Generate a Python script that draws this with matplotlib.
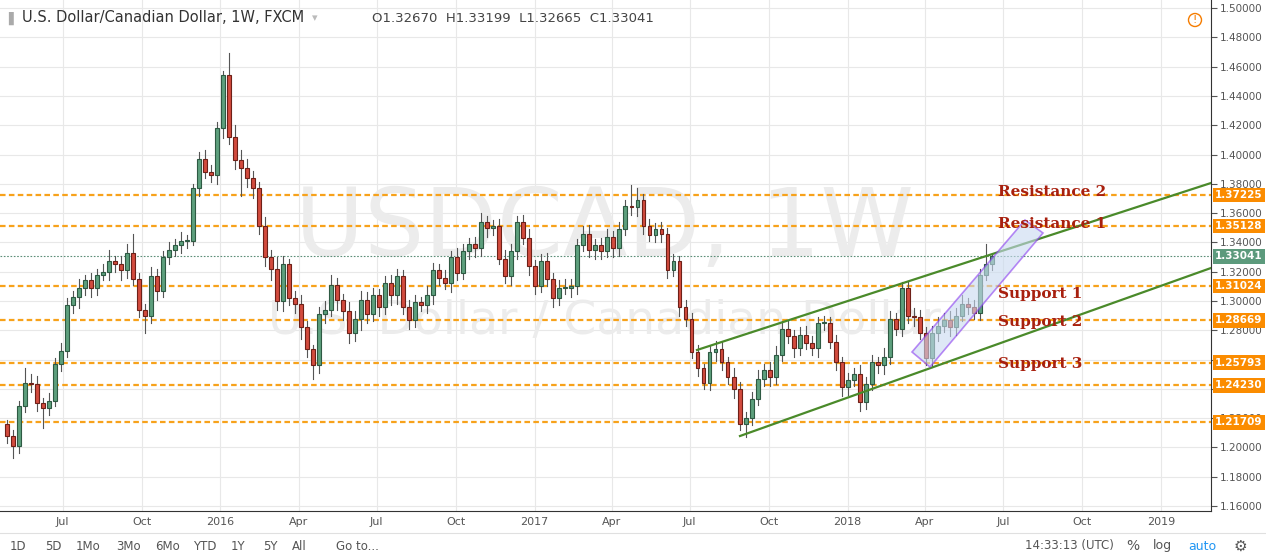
import matplotlib
matplotlib.use("Agg")
import matplotlib.pyplot as plt
import matplotlib.dates as mdates
from matplotlib.patches import Polygon, Rectangle, Ellipse
import pandas as pd
import numpy as np

first_open = 1.216
closes = [1.208,1.201,1.228,1.244,1.243,1.230,1.227,1.232,1.257,1.266,
          1.297,1.303,1.309,1.314,1.309,1.318,1.320,1.327,1.325,1.321,
          1.333,1.315,1.294,1.290,1.317,1.307,1.330,1.335,1.338,1.341,
          1.341,1.377,1.397,1.388,1.386,1.418,1.454,1.412,1.396,1.391,
          1.384,1.377,1.351,1.330,1.322,1.300,1.325,1.302,1.298,1.282,
          1.267,1.256,1.291,1.294,1.311,1.301,1.293,1.278,1.288,1.301,
          1.291,1.304,1.296,1.312,1.304,1.317,1.296,1.287,1.299,1.297,
          1.304,1.321,1.316,1.312,1.330,1.319,1.334,1.339,1.336,1.354,
          1.350,1.351,1.329,1.317,1.334,1.354,1.343,1.324,1.310,1.327,
          1.315,1.302,1.309,1.309,1.310,1.338,1.346,1.335,1.338,1.334,
          1.344,1.336,1.349,1.365,1.364,1.369,1.351,1.345,1.349,1.346,
          1.321,1.327,1.296,1.288,1.265,1.254,1.244,1.265,1.267,1.258,
          1.248,1.240,1.216,1.220,1.233,1.247,1.253,1.248,1.263,1.281,
          1.276,1.268,1.277,1.271,1.268,1.285,1.285,1.272,1.258,1.241,
          1.246,1.250,1.231,1.243,1.258,1.256,1.262,1.288,1.281,1.309,
          1.290,1.289,1.278,1.261,1.278,1.283,1.287,1.282,1.290,1.298,
          1.296,1.292,1.318,1.325,1.3304]
# wick lengths in units of 0.001
upper_wick = [3,4,4,10,6,6,4,5,4,5, 5,4,6,4,5,4,5,8,4,6, 6,13,4,4,6,5,4,5,4,6,
              4,3,5,6,5,4,3,15,8,7, 6,5,4,6,5,8,6,4,5,6, 4,3,5,6,7,5,4,6,5,6,
              5,5,4,5,6,5,4,5,5,4, 6,5,4,5,4,6,5,4,5,6, 4,4,5,6,5,4,5,6,4,5,
              6,4,5,6,5,4,5,6,4,5, 5,4,5,4,14,8,4,5,4,5, 4,5,4,5,4,5,3,4,6,5,
              4,6,5,4,5,6,4,5,6,5, 6,4,5,6,5,4,5,4,5,4, 5,4,6,5,5,4,6,5,4,4,
              4,5,5,4,5,6,5,6,5,6, 4,5,4,14,2]
lower_wick = [5,8,5,4,5,5,14,5,4,5, 4,5,8,5,6,5,4,6,5,7, 5,4,5,12,5,6,4,5,4,5,
              5,3,5,4,5,6,7,5,6,19, 6,7,5,6,8,6,7,5,6,8, 5,9,5,6,4,7,6,7,5,8,
              6,5,6,5,7,6,5,6,5,4, 5,6,5,4,6,5,4,5,6,5, 6,5,4,5,6,5,4,6,5,4,
              5,6,5,4,6,5,4,5,6,5, 4,6,5,4,5,6,5,4,5,6, 5,4,6,5,4,5,4,5,6,5,
              5,6,4,9,5,4,5,6,5,4, 5,6,5,4,5,6,5,4,5,6, 5,4,6,5,4,5,6,5,4,5,
              5,6,4,5,6,5,4,6,5,4, 5,4,5,4,4]

levels = [1.37225, 1.35128, 1.31024, 1.28669, 1.25793, 1.24230, 1.21709]
last_price = 1.33041
level_labels = ["Resistance 2", "Resistance 1", "Support 1", "Support 2", "Support 3"]
level_label_y = [1.3742, 1.3525, 1.3050, 1.2858, 1.2573]
tick_labels_x = ["Jul","Oct","2016","Apr","Jul","Oct","2017","Apr","Jul","Oct","2018","Apr","Jul","Oct","2019"]
tick_dates_x = ["2015-07-01","2015-10-01","2016-01-01","2016-04-01","2016-07-01","2016-10-01",
                "2017-01-01","2017-04-01","2017-07-01","2017-10-01","2018-01-01","2018-04-01",
                "2018-07-01","2018-10-01","2019-01-01"]

W, H = 1266, 556
fig = plt.figure(figsize=(W/100, H/100), dpi=100)
ax = fig.add_axes([0, 1-511/H, 1211/W, 511/H])

dates = pd.date_range("2015-04-27", periods=len(closes), freq="7D")
xs = mdates.date2num(dates)
opens = [first_open] + closes[:-1]

x0 = xs[0] - 8
xr = xs[0] + 200.5*7
y_top, y_bot = 1.5055, 1.1566
ax.set_xlim(x0, xr)
ax.set_ylim(y_bot, y_top)

def px(xp, yp):
    return (x0 + (xp)/1211*(xr-x0), y_top - yp/511*(y_top-y_bot))

# grid
for v in np.arange(1.16, 1.5001, 0.02):
    ax.axhline(v, color="#e8e8e8", lw=0.8, zorder=0)
for d in tick_dates_x:
    ax.axvline(mdates.datestr2num(d), color="#e8e8e8", lw=0.8, zorder=0)

# watermark
ax.text(*px(605, 230), "USDCAD, 1W", fontsize=68, color="#ececec", ha="center", va="center", zorder=0.5)
ax.text(*px(605, 322), "U.S. Dollar / Canadian Dollar", fontsize=34, color="#ececec", ha="center", va="center", zorder=0.5)

# levels
for lv in levels:
    ax.axhline(lv, color="#f7a21b", lw=1.6, ls=(0, (2.5, 1.5)), zorder=1)
ax.axhline(last_price, color="#5c8f78", lw=0.8, ls=(0, (1.5, 1.5)), zorder=1)

# candles
bw = 0.65*7
for x, o, c, uw, lw_ in zip(xs, opens, closes, upper_wick, lower_wick):
    hi = max(o, c) + uw/1000
    lo = min(o, c) - lw_/1000
    up = c >= o
    fc = "#5d9f7d" if up else "#d24b3e"
    ec = "#2e5a43" if up else "#6e2018"
    ax.plot([x, x], [lo, hi], color="#555555", lw=0.8, zorder=2)
    ax.add_patch(Rectangle((x-bw/2, min(o, c)), bw, max(abs(c-o), 0.0006),
                           facecolor=fc, edgecolor=ec, lw=0.8, zorder=3))

# trend channel
ax.plot(*zip(px(697, 350), px(1211, 183)), color="#4a8a2a", lw=1.6, zorder=4)
ax.plot(*zip(px(740, 436), px(1211, 268)), color="#4a8a2a", lw=1.6, zorder=4)
poly = Polygon([px(912, 352), px(930, 367), px(1043, 233), px(1025, 220)], closed=True,
               facecolor="#c9daf0", alpha=0.6, edgecolor="#8a3cf0", lw=1.2, zorder=5)
ax.add_patch(poly)

for lab, yv in zip(level_labels, level_label_y):
    ax.text(px(998, 0)[0], yv, lab, color="#a8200e", fontsize=11, fontweight="bold",
            fontfamily="DejaVu Serif", va="center", ha="left", zorder=6)

# axes styling
for s in ["top", "left"]:
    ax.spines[s].set_visible(False)
ax.spines["right"].set_color("#333333")
ax.spines["bottom"].set_color("#333333")
ax.yaxis.tick_right()
ax.set_yticks(np.arange(1.16, 1.5001, 0.02))
ax.set_yticklabels([f"{v:.5f}" for v in np.arange(1.16, 1.5001, 0.02)], fontsize=7.5, color="#555555")
ax.tick_params(axis="y", length=4, pad=2, colors="#555555")
ax.set_xticks([mdates.datestr2num(d) for d in tick_dates_x])
ax.set_xticklabels(tick_labels_x, fontsize=8, color="#555555")
ax.tick_params(axis="x", length=0, pad=4)

# price boxes
for lv, col in [(l, "#fb8c00") for l in levels] + [(last_price, "#5c9a7c")]:
    ax.text(1.0035, lv, f"{lv:.5f}", transform=ax.get_yaxis_transform(), fontsize=7.5, color="white",
            fontweight="bold", va="center", ha="left",
            bbox=dict(boxstyle="square,pad=0.22", fc=col, ec="none"), zorder=10, clip_on=False)

# header
fig.text(8/W, 1-18/H, "▌", fontsize=9, color="#aaaaaa", va="center")
fig.text(22/W, 1-18/H, "U.S. Dollar/Canadian Dollar, 1W, FXCM", fontsize=10.5, color="#333333", va="center")
fig.text(312/W, 1-18/H, "▾", fontsize=8, color="#bbbbbb", va="center")
fig.text(372/W, 1-18/H, "O1.32670  H1.33199  L1.32665  C1.33041", fontsize=9.5, color="#444444", va="center")
fig.add_artist(Ellipse((1195/W, 1-20/H), 13/W, 13/H, transform=fig.transFigure, fill=False, ec="#f57c00", lw=1))
fig.text(1195/W, 1-20/H, "!", fontsize=8, color="#f57c00", va="center", ha="center")

# bottom toolbar
fig.add_artist(plt.Line2D([0, 1], [1-533/H, 1-533/H], color="#e0e0e0", lw=0.8))
tb = ["1D", "5D", "1Mo", "3Mo", "6Mo", "YTD", "1Y", "5Y", "All"]
tbx = [10, 45, 76, 116, 155, 193, 231, 263, 292]
for t, xx in zip(tb, tbx):
    fig.text(xx/W, 1-546/H, t, fontsize=8.5, color="#555555", va="center")
fig.text(336/W, 1-546/H, "Go to...", fontsize=8.5, color="#555555", va="center")
fig.text(1025/W, 1-546/H, "14:33:13 (UTC)", fontsize=8.5, color="#555555", va="center")
fig.text(1126/W, 1-546/H, "%", fontsize=10, color="#555555", va="center")
fig.text(1153/W, 1-546/H, "log", fontsize=9, color="#555555", va="center")
fig.text(1188/W, 1-546/H, "auto", fontsize=9, color="#2196f3", va="center")
fig.text(1234/W, 1-546/H, "⚙", fontsize=11, color="#555555", va="center")

fig.savefig("out.png", dpi=100)
